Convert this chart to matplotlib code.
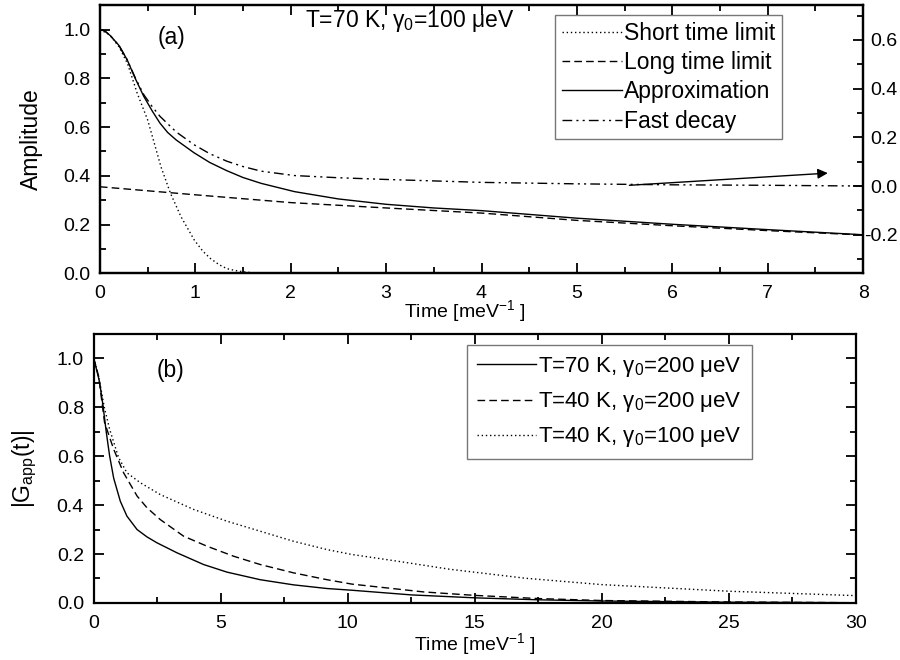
import numpy as np
import matplotlib
matplotlib.use("Agg")
import matplotlib.pyplot as plt
from matplotlib.ticker import MultipleLocator

plt.rcParams['font.family'] = ['Liberation Sans', 'DejaVu Sans']
plt.rcParams['mathtext.fontset'] = 'custom'
plt.rcParams['mathtext.rm'] = 'Liberation Sans'
plt.rcParams['mathtext.it'] = 'Liberation Sans:italic'
plt.rcParams['axes.unicode_minus'] = False

# ---- panel (a) data ----
t_short = [0, 0.1, 0.2, 0.29, 0.39, 0.5, 0.57, 0.64, 0.74, 0.85, 0.99, 1.08, 1.16, 1.25,
           1.33, 1.42, 1.5, 1.65]
short_limit = [1.0, 0.98, 0.93, 0.86, 0.74, 0.63, 0.534, 0.437, 0.328, 0.232, 0.136, 0.09,
               0.06, 0.035, 0.019, 0.011, 0.006, 0.0]

t_long = [0, 1, 2, 3, 4, 5, 6, 7, 8]
long_limit = [0.355, 0.322, 0.29, 0.268, 0.247, 0.217, 0.195, 0.175, 0.157]

t_app = [0, 0.05, 0.11, 0.2, 0.286, 0.37, 0.46, 0.55, 0.63, 0.71, 0.80, 0.9, 0.985, 1.15,
         1.33, 1.5, 1.69, 2.04, 2.5, 3.0, 3.5, 4.0, 5.0, 6.0, 7.0, 8.0]
approx = [1.0, 0.995, 0.975, 0.935, 0.876, 0.80, 0.726, 0.665, 0.616, 0.578, 0.547, 0.519,
          0.495, 0.455, 0.421, 0.393, 0.369, 0.335, 0.305, 0.283, 0.268, 0.257, 0.226,
          0.201, 0.179, 0.158]

# fast decay is read against the right axis
t_fast = [0, 0.05, 0.11, 0.2, 0.286, 0.37, 0.46, 0.55, 0.63, 0.8, 0.985, 1.15, 1.33, 1.5,
          1.69, 2.04, 2.5, 3.0, 4.0, 5.0, 6.0, 7.0, 8.0]
fast_decay = [0.642, 0.637, 0.617, 0.577, 0.518, 0.445, 0.375, 0.325, 0.286, 0.222, 0.17,
              0.133, 0.102, 0.08, 0.061, 0.043, 0.034, 0.027, 0.015, 0.009, 0.005, 0.003,
              0.0]

# ---- panel (b) data ----
t_70_200 = [0, 0.1, 0.236, 0.37, 0.5, 0.63, 0.79, 1.05, 1.31, 1.71, 2.1, 2.49, 3.28, 4.33,
            5.25, 6.56, 7.87, 9.19, 10.17, 12.5, 15, 17.5, 20, 25, 30]
g_70_200 = [1.0, 0.96, 0.902, 0.806, 0.697, 0.601, 0.51, 0.416, 0.355, 0.30, 0.27, 0.246,
            0.205, 0.157, 0.126, 0.095, 0.074, 0.059, 0.052, 0.033, 0.021, 0.013, 0.008,
            0.003, 0.001]

t_40_200 = [0, 0.1, 0.2, 0.43, 0.79, 1.18, 1.71, 2.1, 2.62, 3.54, 4.46, 5.51, 6.56, 7.87,
            9.19, 10.17, 13, 15, 17.5, 20, 25, 30]
g_40_200 = [1.0, 0.965, 0.925, 0.738, 0.628, 0.532, 0.437, 0.389, 0.341, 0.273, 0.232,
            0.191, 0.157, 0.123, 0.095, 0.077, 0.045, 0.031, 0.018, 0.010, 0.004, 0.001]

t_40_100 = [0, 0.1, 0.2, 0.42, 0.63, 0.98, 1.31, 1.84, 2.62, 3.94, 5.25, 6.56, 7.87, 9.19,
            10.17, 12, 14, 17, 20, 25, 30]
g_40_100 = [1.0, 0.965, 0.925, 0.80, 0.71, 0.595, 0.532, 0.491, 0.443, 0.382, 0.334, 0.293,
            0.252, 0.218, 0.198, 0.17, 0.138, 0.101, 0.075, 0.048, 0.03]

fig = plt.figure(figsize=(9, 6.6), dpi=100)
ax1 = fig.add_axes([0.111, 0.586, 0.848, 0.406])
ax2 = fig.add_axes([0.104, 0.0864, 0.847, 0.408])

dot = (0, (1, 2))
dash = (0, (5.5, 3))
dashdotdot = (0, (7, 3, 1.5, 3, 1.5, 3))

# Panel (a)
ax1.plot(t_short, short_limit, color='black', lw=1.0, ls=dot, label='Short time limit')
ax1.plot(t_long, long_limit, color='black', lw=1.0, ls=dash, label='Long time limit')
ax1.plot(t_app, approx, color='black', lw=1.0, ls='-', label='Approximation')
ax1r = ax1.twinx()
ax1r.plot(t_fast, fast_decay, color='black', lw=1.0, ls=dashdotdot, label='Fast decay')

ax1.set_xlim(0, 8)
ax1.set_ylim(0, 1.1)
ax1r.set_ylim(-0.358, 0.742)
ax1.xaxis.set_major_locator(MultipleLocator(1))
ax1.xaxis.set_minor_locator(MultipleLocator(0.5))
ax1.yaxis.set_major_locator(MultipleLocator(0.2))
ax1.yaxis.set_minor_locator(MultipleLocator(0.1))
ax1r.yaxis.set_major_locator(MultipleLocator(0.2))
ax1r.yaxis.set_minor_locator(MultipleLocator(0.1))
ax1.set_xlabel('Time [meV$^{-1}$ ]', fontsize=14, ha='center', va='top')
ax1.xaxis.set_label_coords(0.478, -0.093)
ax1.set_ylabel('Amplitude', fontsize=16.5)
ax1.yaxis.set_label_coords(-0.075, 0.5)

# arrow pointing at the right axis
ax1r.annotate('', xy=(7.63, 0.053), xytext=(5.55, 0.003),
              arrowprops=dict(arrowstyle='-|>', color='black', lw=1.0,
                              mutation_scale=15, shrinkA=0, shrinkB=0))

ax1.text(0.6, 0.967, '(a)', fontsize=16.5, ha='left', va='center')
ax1.text(2.15, 1.037, 'T=70 K, γ$_0$=100 μeV', fontsize=16.5, ha='left', va='center')

handles = ax1.get_legend_handles_labels()[0] + ax1r.get_legend_handles_labels()[0]
leg = ax1.legend(handles=handles, loc='upper left', bbox_to_anchor=(0.617, 0.977),
                 bbox_transform=fig.transFigure, fontsize=16.5, frameon=True,
                 fancybox=False, edgecolor='#555555', handlelength=2.6,
                 handletextpad=0.1, labelspacing=0.27, borderpad=0.3, borderaxespad=0)
leg.get_frame().set_linewidth(1.0)

# Panel (b)
ax2.plot(t_70_200, g_70_200, color='black', lw=1.0, ls='-',
         label='T=70 K, γ$_0$=200 μeV')
ax2.plot(t_40_200, g_40_200, color='black', lw=1.0, ls=dash,
         label='T=40 K, γ$_0$=200 μeV')
ax2.plot(t_40_100, g_40_100, color='black', lw=1.0, ls=dot,
         label='T=40 K, γ$_0$=100 μeV')
ax2.set_xlim(0, 30)
ax2.set_ylim(0, 1.1)
ax2.xaxis.set_major_locator(MultipleLocator(5))
ax2.xaxis.set_minor_locator(MultipleLocator(2.5))
ax2.yaxis.set_major_locator(MultipleLocator(0.2))
ax2.yaxis.set_minor_locator(MultipleLocator(0.1))
ax2.set_xlabel('Time [meV$^{-1}$ ]', fontsize=14, ha='center', va='top')
ax2.xaxis.set_label_coords(0.5, -0.106)
ax2.set_ylabel('|G$_{\\mathrm{app}}$(t)|', fontsize=16.5)
ax2.yaxis.set_label_coords(-0.072, 0.5)
ax2.text(2.5, 0.948, '(b)', fontsize=16.5, ha='left', va='center')
leg2 = ax2.legend(loc='upper left', bbox_to_anchor=(0.519, 0.477),
                  bbox_transform=fig.transFigure, fontsize=16, frameon=True,
                  fancybox=False, edgecolor='#555555', handlelength=2.65,
                  handletextpad=0.1, labelspacing=0.5, borderpad=0.45, borderaxespad=0)
leg2.get_frame().set_linewidth(1.0)

for ax in (ax1, ax2):
    for s in ax.spines.values():
        s.set_linewidth(1.6)
    ax.tick_params(which='both', direction='in', top=True, labelsize=14, width=1.3)
    ax.tick_params(axis='x', pad=8.5)
    ax.tick_params(axis='y', pad=7)
    ax.tick_params(which='major', length=7)
    ax.tick_params(which='minor', length=4)
ax1.tick_params(which='both', right=False)
ax2.tick_params(which='both', right=True)
ax1r.tick_params(which='both', direction='in', labelsize=14, width=1.3, pad=25)
ax1r.tick_params(which='major', length=7)
ax1r.tick_params(which='minor', length=4)
for lbl in ax1r.get_yticklabels():
    lbl.set_horizontalalignment('right')
for s in ax1r.spines.values():
    s.set_linewidth(1.6)

fig.savefig('out.png', dpi=100)
